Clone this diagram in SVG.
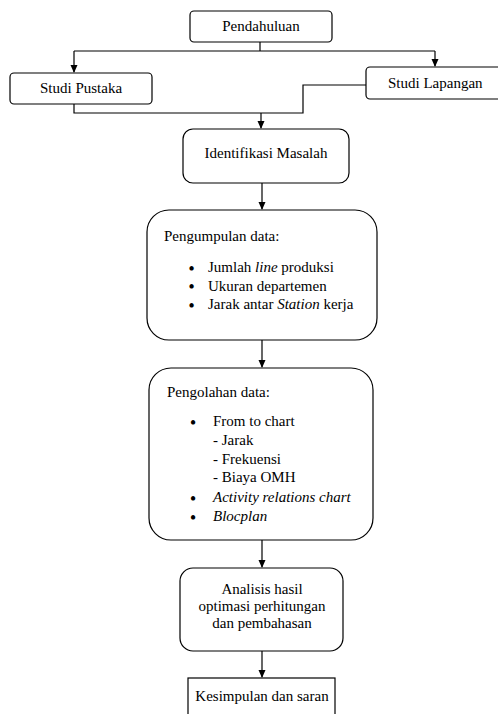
<svg xmlns="http://www.w3.org/2000/svg" width="498" height="714" viewBox="0 0 498 714">
<defs>
<marker id="ah" markerWidth="8" markerHeight="8" refX="7" refY="4" orient="auto" markerUnits="userSpaceOnUse">
<path d="M0,0.5 L8,4 L0,7.5 Z" fill="#000"/>
</marker>
</defs>
<style>
.b{fill:#fff;stroke:#000;stroke-width:1.2}
.t{font-family:"Liberation Serif","Times New Roman",serif;font-size:15px;fill:#000}
.c{text-anchor:middle}
.i{font-style:italic}
.d{font-size:16px;font-weight:bold;text-anchor:middle}
.l{fill:none;stroke:#000;stroke-width:1.2}
</style>
<rect width="498" height="714" fill="#fff"/>
<g id="connectors">
<path class="l" d="M260,42 V51"/>
<path class="l" d="M74,51 H435"/>
<path class="l" d="M74,51 V72" marker-end="url(#ah)"/>
<path class="l" d="M435,51 V66" marker-end="url(#ah)"/>
<path class="l" d="M74,104 V113 H303 V85 H366"/>
<path class="l" d="M261,113 V128" marker-end="url(#ah)"/>
<path class="l" d="M262,183 V209" marker-end="url(#ah)"/>
<path class="l" d="M262,340 V367" marker-end="url(#ah)"/>
<path class="l" d="M262,540 V567" marker-end="url(#ah)"/>
<path class="l" d="M262,651 V677" marker-end="url(#ah)"/>
</g>
<g id="pendahuluan">
<rect class="b" x="190" y="11" width="142" height="31" rx="4"/>
<text class="t c" x="261" y="31">Pendahuluan</text>
</g>
<g id="studi-pustaka">
<rect class="b" x="10" y="73" width="142" height="31" rx="4"/>
<text class="t c" x="81" y="93">Studi Pustaka</text>
</g>
<g id="studi-lapangan">
<rect class="b" x="366" y="67" width="140" height="32" rx="4"/>
<text class="t" x="388" y="88">Studi Lapangan</text>
</g>
<g id="identifikasi">
<rect class="b" x="183" y="129" width="166" height="54" rx="10"/>
<text class="t c" x="266" y="158">Identifikasi Masalah</text>
</g>
<g id="pengumpulan">
<rect class="b" x="147" y="210" width="230" height="130" rx="22"/>
<text class="t" x="164" y="241">Pengumpulan data:</text>
<text class="t d" x="191.5" y="273.5">•</text>
<text class="t" x="208" y="272">Jumlah <tspan class="i">line</tspan> produksi</text>
<text class="t d" x="191.5" y="292">•</text>
<text class="t" x="208" y="290.5">Ukuran departemen</text>
<text class="t d" x="191.5" y="310.5">•</text>
<text class="t" x="208" y="309">Jarak antar <tspan class="i">Station</tspan> kerja</text>
</g>
<g id="pengolahan">
<rect class="b" x="149" y="368" width="224" height="172" rx="22"/>
<text class="t" x="167" y="397">Pengolahan data:</text>
<text class="t d" x="193" y="427.5">•</text>
<text class="t" x="213" y="426">From to chart</text>
<text class="t" x="213" y="445">- Jarak</text>
<text class="t" x="213" y="464">- Frekuensi</text>
<text class="t" x="213" y="482">- Biaya OMH</text>
<text class="t d" x="193" y="503.5">•</text>
<text class="t i" x="213" y="502">Activity relations chart</text>
<text class="t d" x="193" y="522.5">•</text>
<text class="t i" x="213" y="521">Blocplan</text>
</g>
<g id="analisis">
<rect class="b" x="180" y="568" width="163" height="83" rx="13"/>
<text class="t c" x="262" y="594">Analisis hasil</text>
<text class="t c" x="262" y="611">optimasi perhitungan</text>
<text class="t c" x="262" y="628">dan pembahasan</text>
</g>
<g id="kesimpulan">
<rect class="b" x="188" y="678" width="147" height="50"/>
<text class="t c" x="262" y="701">Kesimpulan dan saran</text>
</g>
</svg>
